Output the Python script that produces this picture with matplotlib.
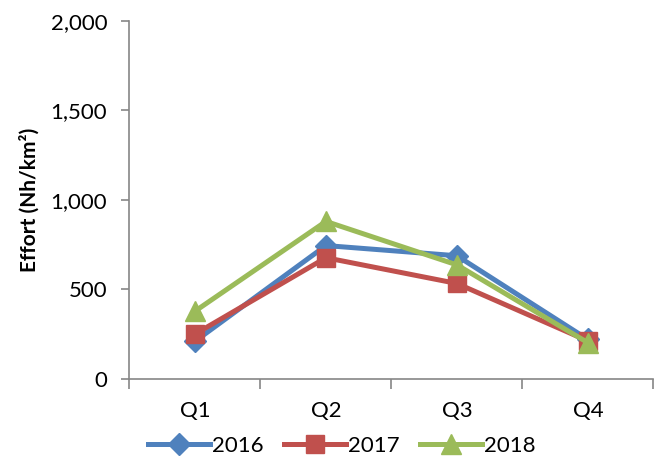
import matplotlib.pyplot as plt
import numpy as np

quarters = ["Q1", "Q2", "Q3", "Q4"]
effort_2016 = [210, 745, 688, 220]
effort_2017 = [250, 677, 533, 212]
effort_2018 = [378, 880, 637, 202]

plt.rcParams['font.family'] = ['Lato', 'DejaVu Sans']

fig = plt.figure(figsize=(6.62, 4.57), dpi=100)
ax = fig.add_axes([0.1956, 0.171, 0.7914, 0.783])

x = np.arange(1, len(quarters) + 1)
ax.plot(x, effort_2016, color="#4F81BD", lw=3.6, marker="D", ms=11, label="2016")
ax.plot(x, effort_2017, color="#C0504D", lw=3.6, marker="s", ms=13, label="2017")
ax.plot(x, effort_2018, color="#9BBB59", lw=3.6, marker="^", ms=15, label="2018")

ax.set_xlim(0.5, 4.5)
ax.set_ylim(0, 2000)
ax.set_yticks([0, 500, 1000, 1500, 2000])
ax.set_yticklabels(["0", "500", "1,000", "1,500", "2,000"])
ax.set_xticks(x)
ax.set_xticklabels(quarters)
ax.set_xticks([0.5, 1.5, 2.5, 3.5, 4.5], minor=True)

for s in ["top", "right"]:
    ax.spines[s].set_visible(False)
for s in ["left", "bottom"]:
    ax.spines[s].set_color("#868686")
    ax.spines[s].set_linewidth(1.2)

ax.tick_params(axis="x", which="major", length=0, pad=16, labelsize=16)
ax.tick_params(axis="x", which="minor", length=7, color="#868686", width=1.2)
ax.tick_params(axis="y", length=6, color="#868686", width=1.2, labelsize=16, pad=10)

ax.set_ylabel("Effort (Nh/km²)", fontsize=15, fontweight="bold", labelpad=8)

ax.legend(loc="upper center", bbox_to_anchor=(0.405, -0.135), ncol=3, frameon=False,
          fontsize=16, handlelength=2.8, handletextpad=0.1, columnspacing=0.9,
          borderaxespad=0)

fig.savefig("out.png", dpi=100)
